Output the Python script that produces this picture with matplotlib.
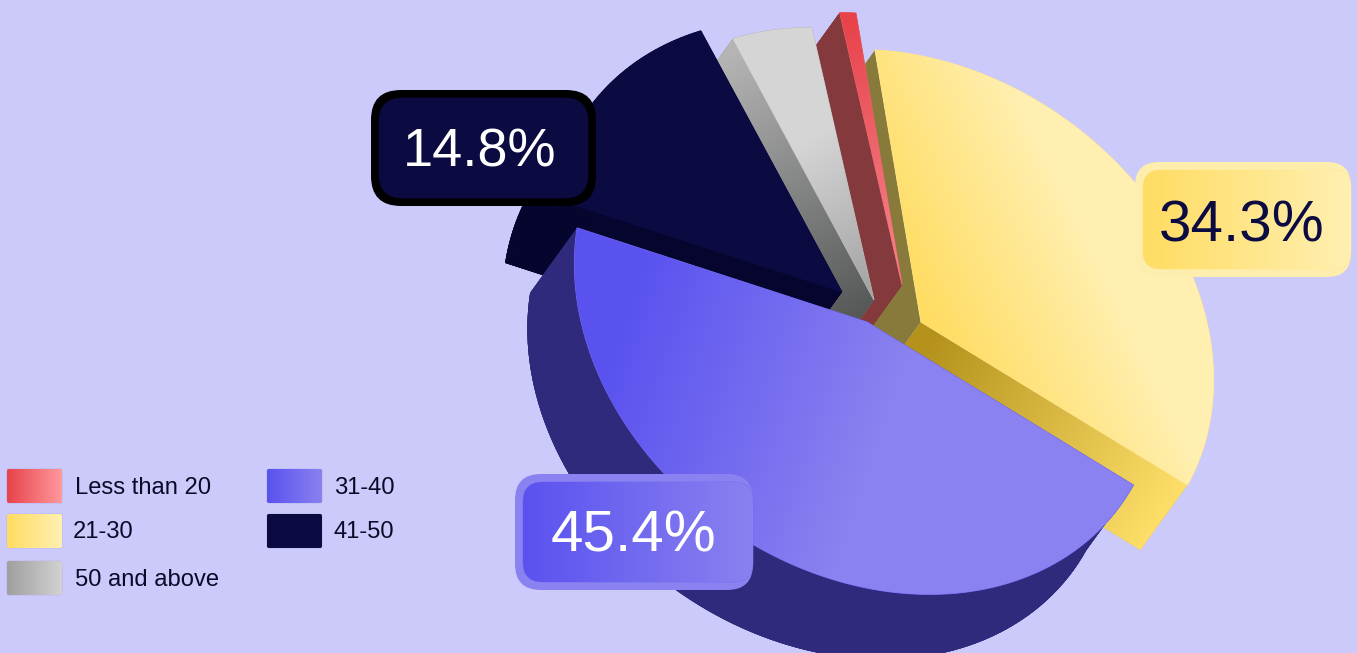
import numpy as np
import matplotlib
matplotlib.use("Agg")
import matplotlib.pyplot as plt
from matplotlib.colors import to_rgb
from matplotlib.patches import Polygon, FancyBboxPatch

# Age bands and their share of respondents, in percent
categories = ["Less than 20", "21-30", "31-40", "41-50", "50 and above"]
shares = [0.9, 34.3, 45.4, 14.8, 4.6]
badge_labels = ["14.8%", "34.3%", "45.4%"]

BG = "#ccc9fb"
NAVY = "#0b0a41"

# Oblique projection of the disc plane onto the canvas (pixels per unit radius)
AXIS_C = np.array([-46.0, -272.0])
AXIS_S = np.array([289.0, 15.6])
EXTRUDE = np.array([-47.0, 65.0])

# Hub of each exploded slice on the canvas
hubs = {
    "Less than 20": (902, 285),
    "21-30": (921, 322),
    "31-40": (867, 322),
    "41-50": (842, 292),
    "50 and above": (874, 300),
}

# Per-slice paint: top gradient (start, end, colour, colour) and wall gradient
top_paint = {
    "Less than 20": ((845, 20), (900, 290), "#e8434b", "#f58a90"),
    "21-30": ((935, 335), (1100, 255), "#ffdc62", "#fff0b2"),
    "31-40": ((635, 280), (900, 370), "#5a52ef", "#8a82f0"),
    "41-50": ((600, 100), (800, 250), NAVY, NAVY),
    "50 and above": ((790, 150), (875, 295), "#d5d5d5", "#a2a2a2"),
}
wall_paint = {
    "Less than 20": ((820, 50), (880, 320), "#843a3c", "#843a3c"),
    "21-30": ((925, 345), (1165, 505), "#b4921c", "#fbdd68"),
    "31-40": ((530, 300), (900, 650), "#2f2a7c", "#2f2a7c"),
    "41-50": ((520, 240), (840, 300), "#05052e", "#05052e"),
    "50 and above": ((715, 65), (865, 312), "#b4b4b4", "#565858"),
}
side_paint = "#877a3a"

legend_paint = {
    "Less than 20": ("#e8434b", "#ff9a9e"),
    "21-30": ("#ffdc62", "#fff0b2"),
    "31-40": ("#5a52ef", "#8a82f0"),
    "41-50": (NAVY, NAVY),
    "50 and above": ("#a0a0a0", "#d2d2d2"),
}
# Swatch corner and label position for each legend entry
legend_slots = {
    "Less than 20": (7, 469, 75, 485),
    "21-30": (7, 514, 73, 530),
    "31-40": (267, 469, 334, 485),
    "41-50": (267, 514, 334, 530),
    "50 and above": (7, 561, 75, 577),
}

fig = plt.figure(figsize=(13.57, 6.53), dpi=100, facecolor=BG)
ax = fig.add_axes([0, 0, 1, 1])
ax.set_xlim(0, 1357)
ax.set_ylim(653, 0)
ax.axis("off")
plt.rcParams["font.family"] = ["Liberation Sans", "DejaVu Sans"]


def fill_gradient(patch, p0, p1, c0, c1, z, lw=0.5):
    """Paint a patch with a linear gradient running from p0 to p1."""
    p0, p1 = np.asarray(p0, float), np.asarray(p1, float)
    c0, c1 = np.array(to_rgb(c0)), np.array(to_rgb(c1))
    verts = patch.get_path().transformed(patch.get_patch_transform()).vertices
    x0, y0 = np.floor(verts.min(axis=0)) - 1
    x1, y1 = np.ceil(verts.max(axis=0)) + 1
    xs = np.arange(x0, x1 + 1)
    ys = np.arange(y0, y1 + 1)
    gx, gy = np.meshgrid(xs, ys)
    v = p1 - p0
    t = ((gx - p0[0]) * v[0] + (gy - p0[1]) * v[1]) / max(v @ v, 1e-9)
    t = np.clip(t, 0, 1)[..., None]
    rgb = c0 * (1 - t) + c1 * t
    mid = tuple((c0 + c1) / 2)
    patch.set(facecolor=mid, edgecolor=mid if lw else "none", linewidth=lw, zorder=z)
    ax.add_patch(patch)
    im = ax.imshow(rgb, extent=(x0, x1 + 1, y1 + 1, y0), origin="upper",
                   aspect="auto", interpolation="bilinear", zorder=z + 0.1)
    im.set_clip_path(patch)
    ax.set_xlim(0, 1357)
    ax.set_ylim(653, 0)


def rim_points(a0, a1, n=90):
    a = np.radians(np.linspace(a0, a1, n))[:, None]
    return np.cos(a) * AXIS_C + np.sin(a) * AXIS_S


# Angular extent of each slice, clockwise; the smallest band ends at 0 degrees
degrees = np.array(shares) * 3.6
stops = np.cumsum(degrees) - degrees[0]
starts = stops - degrees
spans = {c: (s, e) for c, s, e in zip(categories, starts, stops)}

# Painter's order: rear slices first, the large front slice last
draw_order = ["21-30", "Less than 20", "50 and above", "41-50", "31-40"]
z = 2.0
for cat in draw_order:
    a0, a1 = spans[cat]
    hub = np.array(hubs[cat], float)
    rim = hub + rim_points(a0, a1)
    top = np.vstack([hub, rim])

    # Extruded body: lower face, rim ribbon and the two cut faces
    low = top + EXTRUDE
    p0, p1, c0, c1 = wall_paint[cat]
    start_face = np.array([top[1], low[1], low[0], top[0]])
    end_face = np.array([top[0], low[0], low[-1], top[-1]])
    if cat == "21-30":
        # The two cut faces of this slice take different paints
        ax.add_patch(Polygon(start_face, closed=True, facecolor=side_paint,
                             edgecolor="none", zorder=z))
        fill_gradient(Polygon(end_face, closed=True), p0, p1, c0, c1, z + 0.2, lw=0)
    else:
        ribbon = np.vstack([top[1:], low[:0:-1]])
        for shape in (low, ribbon, start_face, end_face):
            fill_gradient(Polygon(shape, closed=True), p0, p1, c0, c1, z, lw=0)

    p0, p1, c0, c1 = top_paint[cat]
    fill_gradient(Polygon(top, closed=True), p0, p1, c0, c1, z + 0.5, lw=0.7)
    z += 1.0


def badge(box, inner, radius, outer_colour, inner_colours, text, colour, centre, size):
    x0, y0, x1, y1 = box
    ax.add_patch(FancyBboxPatch((x0, y0), x1 - x0, y1 - y0,
                                boxstyle=f"round,pad=0,rounding_size={radius}",
                                facecolor=outer_colour, edgecolor="none", zorder=20))
    ix0, iy0, ix1, iy1 = inner
    shape = FancyBboxPatch((ix0, iy0), ix1 - ix0, iy1 - iy0,
                           boxstyle=f"round,pad=0,rounding_size={radius - 6}")
    fill_gradient(shape, (ix0, iy0), (ix1, iy0), inner_colours[0], inner_colours[1], 21)
    ax.text(*centre, text, color=colour, fontsize=size, ha="center",
            va="center_baseline", zorder=23)


badge((371, 90, 596, 206), (379, 98, 588, 198), 30, "#000000", (NAVY, NAVY),
      badge_labels[0], "white", (480, 147), 39)
badge((1135, 162, 1351, 277), (1143, 170, 1351, 269), 24, "#fdeeae",
      ("#ffdc62", "#fff0b2"), badge_labels[1], NAVY, (1242, 220), 42)
badge((515, 474, 753, 590), (523, 482, 753, 582), 26, "#8a82f0",
      ("#5a52ef", "#8a82f0"), badge_labels[2], "white", (633, 530), 42)

# Legend swatches with their own gradients
for cat in categories:
    x, y, tx, ty = legend_slots[cat]
    c0, c1 = legend_paint[cat]
    swatch = FancyBboxPatch((x, y), 55, 34, boxstyle="round,pad=0,rounding_size=2")
    fill_gradient(swatch, (x, y), (x + 55, y), c0, c1, 21)
    swatch.set_edgecolor("#b4b1e6")
    ax.text(tx, ty, cat, color="#0a0a28", fontsize=17.1, ha="left",
            va="center_baseline", zorder=23)

fig.savefig("out.png", dpi=100, facecolor=BG)
